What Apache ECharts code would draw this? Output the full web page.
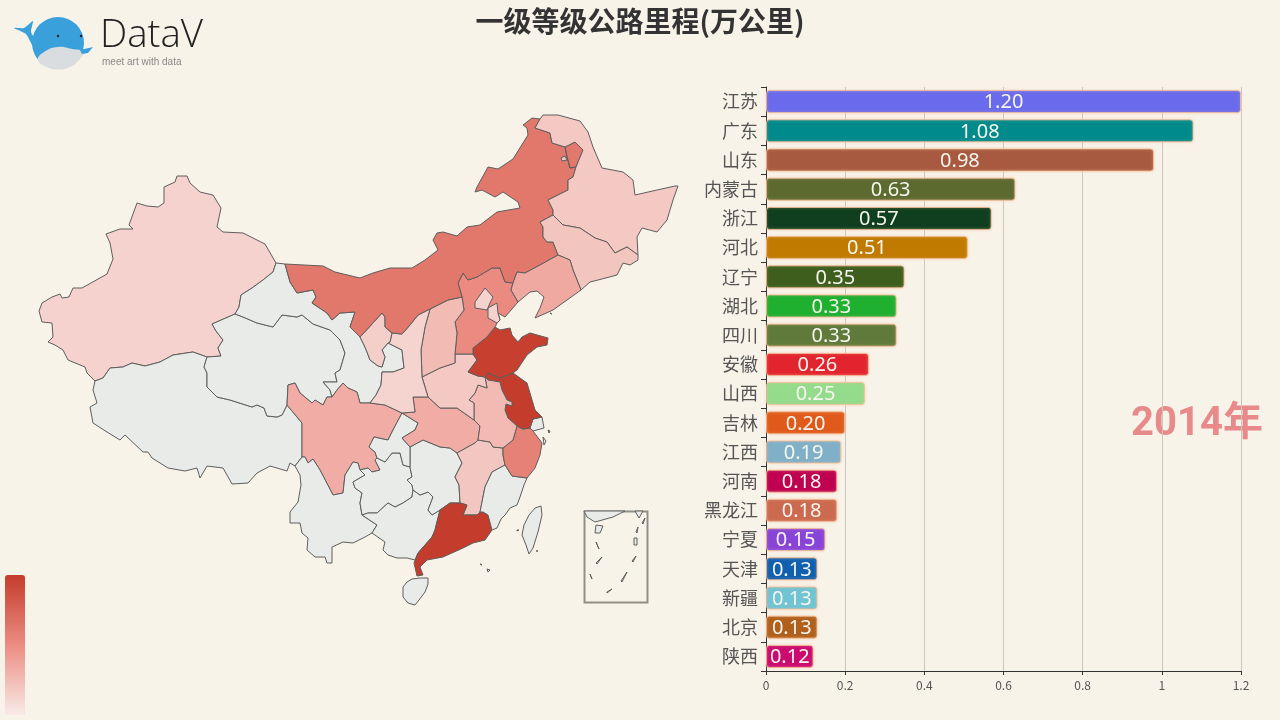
<!DOCTYPE html>
<html><head><meta charset="utf-8">
<style>html,body{margin:0;padding:0;background:#f8f3e9}#c{width:1280px;height:720px}</style>
<script src="https://cdn.jsdelivr.net/npm/echarts@6/dist/echarts.min.js"></script>
</head><body><div id="c"></div>
<script>
const titleText = '一级等级公路里程(万公里)';
const yearText = '2014年';
const provinces = ['江苏','广东','山东','内蒙古','浙江','河北','辽宁','湖北','四川','安徽','山西','吉林','江西','河南','黑龙江','宁夏','天津','新疆','北京','陕西'];
const values = [1.20,1.08,0.98,0.63,0.57,0.51,0.35,0.33,0.33,0.26,0.25,0.20,0.19,0.18,0.18,0.15,0.13,0.13,0.13,0.12];
const barColors = ['#6a6aec','#008a8c','#a85a40','#5c6a30','#0f3f1e','#c07a00','#3d5e1c','#1fb030','#5f7a3a','#e2242f','#94db8c','#e05a1c','#7fb0c8','#c00050','#cc6a50','#8844d8','#1060b0','#70c4d4','#b0601c','#cc0a70'];
const xTicks = [0,0.2,0.4,0.6,0.8,1,1.2];

// Province outlines, in the map's own units
const outlines = {
'新疆':[[[39,311],[42,303],[52,297],[60,294],[62,298],[69,297],[73,288],[82,288],[107,274],[113,259],[110,243],[106,234],[120,229],[133,229],[129,225],[137,203],[147,206],[158,207],[164,203],[164,187],[175,182],[177,176],[187,176],[190,183],[200,192],[213,195],[221,208],[217,227],[223,232],[243,233],[265,244],[276,263],[273,272],[263,280],[252,288],[241,295],[239,307],[235,314],[212,324],[216,331],[223,340],[218,348],[221,356],[207,357],[193,352],[173,355],[160,362],[145,366],[132,363],[123,367],[110,368],[103,378],[95,381],[87,373],[85,367],[68,360],[63,350],[55,345],[48,342],[53,337],[52,323],[42,322]]],
'西藏':[[[207,357],[193,352],[173,355],[160,362],[145,366],[132,363],[123,367],[110,368],[103,378],[95,381],[93,390],[97,403],[90,407],[93,423],[107,432],[120,440],[125,435],[143,452],[148,452],[152,458],[168,468],[185,471],[197,468],[200,478],[207,466],[223,468],[232,484],[248,483],[257,473],[270,466],[287,471],[290,463],[295,466],[302,457],[302,423],[287,405],[282,415],[277,417],[267,416],[264,408],[257,405],[252,407],[230,400],[217,397],[207,387],[207,373],[204,367]]],
'青海':[[[235,314],[243,317],[257,323],[273,327],[282,315],[297,317],[302,315],[313,324],[330,330],[340,340],[345,353],[340,370],[335,373],[337,382],[323,382],[330,390],[332,397],[327,397],[323,405],[315,400],[312,403],[300,393],[295,383],[288,385],[287,405],[282,415],[277,417],[267,416],[264,408],[257,405],[252,407],[230,400],[217,397],[207,387],[207,373],[204,367],[207,357],[221,356],[218,348],[223,340],[216,331],[212,324]]],
'甘肃':[[[276,263],[285,264],[290,282],[297,293],[313,290],[316,297],[312,303],[327,313],[332,320],[340,313],[355,312],[350,327],[360,337],[364,345],[367,352],[370,360],[378,366],[382,367],[385,357],[382,350],[388,343],[402,350],[404,368],[393,372],[382,372],[381,385],[376,395],[370,403],[360,403],[357,392],[348,388],[343,383],[337,390],[332,397],[330,390],[323,382],[337,382],[335,373],[340,370],[345,353],[340,340],[330,330],[313,324],[302,315],[297,317],[282,315],[273,327],[257,323],[243,317],[235,314],[239,307],[241,295],[252,288],[263,280],[273,272]]],
'四川':[[[287,405],[288,385],[295,383],[300,393],[312,403],[315,400],[323,405],[327,397],[332,397],[337,390],[343,383],[348,388],[357,392],[360,403],[370,403],[385,405],[402,413],[393,430],[388,440],[383,439],[374,437],[369,447],[375,452],[377,458],[375,460],[380,470],[372,472],[368,468],[360,470],[358,463],[353,462],[345,475],[343,493],[333,495],[320,470],[313,459],[308,463],[305,457],[302,457],[302,423]]],
'云南':[[[295,466],[302,457],[305,457],[308,463],[313,459],[320,470],[333,495],[343,493],[345,475],[353,462],[358,463],[360,470],[365,475],[353,482],[355,488],[362,493],[360,503],[362,515],[377,525],[372,533],[365,537],[353,543],[343,542],[332,547],[332,563],[327,563],[325,557],[315,557],[307,550],[308,538],[302,533],[300,523],[290,523],[290,512],[298,502],[301,485],[300,475]]],
'贵州':[[[360,470],[368,468],[372,472],[380,470],[375,460],[377,458],[385,462],[392,453],[400,453],[403,465],[410,467],[412,477],[407,480],[412,485],[413,490],[412,497],[403,503],[395,507],[388,503],[377,513],[368,513],[362,515],[360,503],[362,493],[355,488],[353,482],[365,475]]],
'广西':[[[362,515],[368,513],[377,513],[388,503],[395,507],[403,503],[412,497],[413,490],[420,495],[428,492],[433,497],[428,510],[432,515],[440,510],[435,530],[432,537],[418,553],[415,560],[407,558],[397,558],[388,555],[383,550],[385,542],[372,533],[377,525]]],
'湖南':[[[410,447],[410,467],[412,477],[407,480],[412,485],[413,490],[420,495],[428,492],[433,497],[428,510],[432,515],[440,510],[450,503],[460,503],[459,485],[455,477],[462,463],[457,453],[450,448],[440,447],[423,440]]],
'重庆':[[[402,413],[418,423],[415,430],[402,438],[410,447],[410,467],[403,465],[400,453],[392,453],[385,462],[377,458],[375,452],[369,447],[374,437],[383,439],[388,440],[393,430]]],
'湖北':[[[428,397],[413,397],[415,412],[402,413],[418,423],[415,430],[402,438],[410,447],[423,440],[440,447],[450,448],[457,453],[475,443],[478,440],[480,426],[474,420],[457,408],[440,408]]],
'江西':[[[457,453],[475,443],[478,440],[490,442],[493,447],[503,448],[503,455],[505,465],[492,472],[485,487],[480,512],[477,515],[463,515],[467,505],[460,503],[459,485],[455,477],[462,463]]],
'广东':[[[440,510],[450,503],[460,503],[467,505],[463,515],[477,515],[480,512],[483,512],[488,515],[492,530],[485,540],[473,543],[463,548],[443,557],[427,560],[420,567],[423,575],[417,576],[414,563],[418,553],[432,537],[435,530]]],
'福建':[[[480,512],[485,487],[492,472],[505,465],[512,476],[527,478],[524,485],[520,497],[517,505],[510,508],[505,515],[501,519],[497,528],[492,530],[488,515],[483,512]]],
'浙江':[[[517,426],[523,429],[530,428],[533,431],[542,443],[540,455],[535,468],[527,478],[512,476],[505,465],[503,455],[503,448],[513,440],[515,433]]],
'上海':[[[533,419],[542,417],[544,428],[533,431],[530,428]]],
'江苏':[[[485,377],[488,373],[500,378],[513,373],[527,383],[535,410],[542,417],[533,419],[530,428],[523,429],[517,426],[508,418],[505,410],[506,404],[512,406],[512,402],[507,400],[502,390],[500,382],[488,380]]],
'安徽':[[[485,377],[488,380],[500,382],[502,390],[507,400],[512,402],[512,406],[506,404],[505,410],[508,418],[517,426],[515,433],[513,440],[503,448],[493,447],[490,442],[478,440],[480,426],[474,420],[474,403],[469,400],[475,393],[478,385],[487,388]]],
'河南':[[[422,377],[440,368],[455,363],[455,354],[473,354],[477,360],[468,372],[478,376],[485,377],[487,388],[478,385],[475,393],[469,400],[474,403],[474,420],[457,408],[440,408],[428,397]]],
'山东':[[[473,354],[473,348],[487,337],[495,327],[500,330],[510,328],[512,335],[518,342],[522,337],[530,333],[548,338],[547,345],[537,347],[527,355],[517,370],[513,373],[500,378],[488,373],[485,377],[478,376],[468,372],[477,360]]],
'河北':[[[463,273],[468,280],[477,277],[492,268],[500,268],[505,282],[513,283],[511,290],[518,302],[505,317],[498,313],[500,320],[497,323],[495,327],[487,337],[473,348],[473,354],[455,354],[457,333],[455,322],[464,310],[462,297],[458,283]]],
'北京':[[[475,302],[485,288],[493,297],[490,303],[487,310],[475,308]]],
'天津':[[[488,308],[497,303],[498,313],[500,320],[497,323],[488,318]]],
'山西':[[[430,309],[448,300],[462,297],[464,310],[455,322],[457,333],[455,354],[455,363],[440,368],[422,377],[421,350],[425,327]]],
'陕西':[[[430,309],[425,327],[421,350],[422,377],[428,397],[413,397],[415,412],[402,413],[385,405],[370,403],[376,395],[381,385],[382,372],[393,372],[404,368],[402,350],[388,343],[390,342],[392,333],[402,334],[410,325],[418,315]]],
'宁夏':[[[360,337],[373,323],[382,313],[385,317],[385,327],[392,333],[390,342],[388,343],[382,350],[385,357],[382,367],[378,366],[370,360],[367,352],[364,345]]],
'内蒙古':[[[285,264],[323,266],[335,272],[360,278],[373,273],[390,268],[412,268],[425,260],[438,250],[433,240],[437,233],[443,232],[457,236],[467,227],[480,225],[497,212],[520,208],[518,202],[503,192],[495,197],[482,190],[475,192],[477,187],[488,167],[498,169],[513,159],[528,135],[527,128],[523,125],[532,118],[540,119],[535,128],[550,133],[552,143],[565,147],[567,157],[570,168],[576,167],[573,177],[568,180],[568,190],[548,200],[553,210],[553,215],[540,222],[543,227],[543,237],[547,242],[553,242],[558,255],[540,265],[525,273],[517,272],[513,283],[505,282],[500,268],[492,268],[477,277],[468,280],[463,273],[458,283],[462,297],[448,300],[430,309],[418,315],[410,325],[402,334],[392,333],[385,327],[385,317],[382,313],[373,323],[360,337],[350,327],[355,312],[340,313],[332,320],[327,313],[312,303],[316,297],[313,290],[297,293],[290,282]],[[565,147],[575,142],[583,150],[576,167],[570,168],[567,157]]],
'黑龙江':[[[540,119],[543,115],[558,115],[580,121],[588,132],[593,147],[602,168],[623,172],[633,180],[635,195],[657,190],[675,186],[678,186],[673,200],[667,220],[657,232],[642,228],[637,237],[638,255],[627,247],[615,253],[607,242],[595,238],[580,228],[563,225],[553,215],[553,210],[548,200],[568,190],[568,180],[573,177],[576,167],[583,150],[575,142],[565,147],[552,143],[550,133],[535,128]],[[561,158],[565,156],[567,160],[562,161]]],
'吉林':[[[540,222],[553,215],[563,225],[580,228],[595,238],[607,242],[615,253],[627,247],[638,255],[638,260],[630,265],[623,263],[617,275],[598,280],[590,282],[581,290],[573,270],[570,260],[558,255],[553,242],[547,242],[543,237],[543,227]]],
'辽宁':[[[558,255],[570,260],[573,270],[581,290],[567,300],[553,310],[535,318],[540,308],[544,297],[537,291],[530,292],[518,302],[511,290],[513,283],[517,272],[525,273],[540,265]]],
'台湾':[[[535,508],[541,506],[542,515],[538,532],[533,548],[529,554],[526,545],[522,535],[524,525],[529,515]]],
'海南':[[[403,587],[407,582],[412,579],[420,578],[428,578],[428,584],[425,592],[419,600],[415,605],[408,603],[403,597]]],
'南海诸岛':[[[584,511],[625,511],[613,517],[595,522],[587,517]],[[635,511],[643,511],[639,518]],[[596,525],[603,526],[600,533],[595,533]],[[596,542],[597,542],[599,549],[598,549]],[[596,563],[602,557],[603,558],[597,564]],[[590,574],[591,574],[592,579],[591,579]],[[607,592],[612,589],[612,590],[607,593]],[[621,581],[627,572],[628,573],[622,582]],[[632,561],[636,556],[637,557],[633,562]],[[634,538],[637,538],[637,545],[634,545]],[[636,532],[638,527],[639,528],[637,533]],[[642,523],[645,518],[646,519],[643,524]],[[517,530],[519,530],[519,531],[517,531]],[[480,564],[482,565],[481,566]],[[487,569],[490,570],[488,572]],[[536,551],[538,551],[538,552]],[[550,313],[552,314],[551,315]],[[548,430],[550,431],[549,433]],[[543,437],[546,441],[544,445]]]
};

const chart = echarts.init(document.getElementById('c'));
const geoJson = {type:'FeatureCollection',features:Object.keys(outlines).map(name=>({
  type:'Feature',properties:{name},
  geometry:{type:'MultiPolygon',coordinates:outlines[name].map(r=>[r.concat([r[0]])])}
}))};
echarts.registerMap('cn',geoJson);
const allPts = Object.values(outlines).flat(2);
const minX=Math.min(...allPts.map(p=>p[0])),maxX=Math.max(...allPts.map(p=>p[0]));
const minY=Math.min(...allPts.map(p=>p[1])),maxY=Math.max(...allPts.map(p=>p[1]));

const cjk='"Noto Sans CJK SC","Noto Sans",sans-serif';
chart.setOption({
  animation:false,
  backgroundColor:'#f8f3e9',
  title:{text:titleText,left:'center',top:2,textStyle:{fontSize:28,fontWeight:'bold',color:'#333',fontFamily:cjk}},
  visualMap:{type:'continuous',min:0,max:1,seriesIndex:0,left:-10,top:560,itemWidth:20,itemHeight:140,text:null,calculable:false,
    inRange:{color:['#f8ebe8','#ec8c82','#c43c2c']}},
  geo:{map:'cn',left:minX,top:minY,width:maxX-minX,height:maxY-minY,roam:false,silent:true,
    projection:{project:p=>p,unproject:p=>p},
    label:{show:false},
    itemStyle:{areaColor:'#e9ebe8',borderColor:'#5e5e5e',borderWidth:1}},
  grid:{left:766,right:39,top:87,bottom:49},
  xAxis:{type:'value',min:0,max:1.2,interval:0.2,
    axisLine:{show:true,lineStyle:{color:'#333'}},axisTick:{show:true,length:4,lineStyle:{color:'#333'}},
    axisLabel:{color:'#555',fontSize:12,fontFamily:cjk,formatter:v=>String(xTicks.find(t=>Math.abs(t-v)<1e-6))},
    splitLine:{show:true,lineStyle:{color:'#ccc7bd'}}},
  yAxis:{type:'category',inverse:true,data:provinces,
    axisLine:{show:true,lineStyle:{color:'#333'}},axisTick:{show:true,length:5,lineStyle:{color:'#333'}},
    axisLabel:{color:'#555',fontSize:18,fontFamily:cjk,margin:8},splitLine:{show:false}},
  series:[
    {type:'map',geoIndex:0,data:provinces.map((n,i)=>({name:n,value:values[i]}))},
    {type:'bar',silent:true,barWidth:23,
      data:values.map((v,i)=>({value:v,itemStyle:{color:barColors[i]}})),
      itemStyle:{borderRadius:3,borderColor:'rgba(245,190,150,0.8)',borderWidth:1,shadowColor:'rgba(250,200,170,0.6)',shadowBlur:3},
      label:{show:true,position:'inside',offset:[0,1],color:'#f6f6ee',fontSize:20,fontFamily:'"Noto Sans",sans-serif',formatter:p=>p.value.toFixed(2)}}
  ],
  graphic:[
    {type:'rect',shape:{x:584.5,y:511.5,width:63,height:91},style:{fill:'none',stroke:'#8f8f86',lineWidth:2},silent:true},
    {type:'text',style:{x:1197,y:425,text:yearText,fill:'#e88a8a',font:'bold 40px Roboto,"Noto Sans CJK SC",sans-serif',textAlign:'center',textVerticalAlign:'middle'},silent:true},
    // DataV logo
    {type:'polygon',shape:{points:[[14,28],[24,28],[33,21],[31,32],[38,44],[33,46],[26,34]],smooth:0.2},style:{fill:'#3aa0dc'},silent:true},
    {type:'circle',shape:{cx:58,cy:43,r:26},style:{fill:'#3aa0dc'},silent:true},
    {type:'polygon',shape:{points:[[45,66],[38,60],[44,52],[58,47],[72,49],[83,52],[79,60],[70,67],[58,69.5]],smooth:0.5},style:{fill:'#d9dde0'},silent:true},
    {type:'polygon',shape:{points:[[80,50],[93,47],[88,53],[82,54]]},style:{fill:'#3aa0dc'},silent:true},
    {type:'circle',shape:{cx:58,cy:36,r:1.2},style:{fill:'#123'},silent:true},
    {type:'circle',shape:{cx:81,cy:36,r:1.2},style:{fill:'#123'},silent:true},
    {type:'text',style:{x:100,y:36,text:'DataV',fill:'#222',font:'300 38.5px "Open Sans",sans-serif',textVerticalAlign:'middle'},silent:true},
    {type:'text',style:{x:102,y:62,text:'meet art with data',fill:'#888',font:'10px "Liberation Sans",sans-serif',textVerticalAlign:'middle'},silent:true}
  ]
});
</script></body></html>
